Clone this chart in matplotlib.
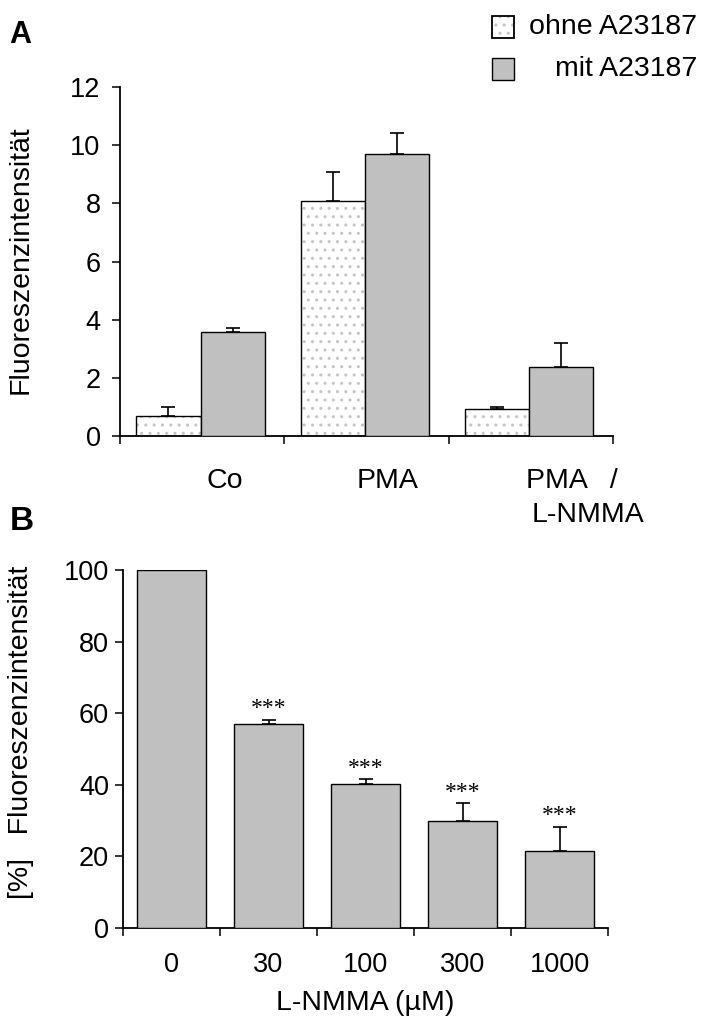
import matplotlib.pyplot as plt
import matplotlib.transforms as mtransforms
from matplotlib.patches import Rectangle
import numpy as np

plt.rcParams['font.family'] = ['Liberation Sans', 'DejaVu Sans']

# --- Panel A data ---
groups_a = ['Co', 'PMA', 'PMA   /\nL-NMMA']
label_x_a = [[0.64], [1.63], [2.75, 2.85]]   # centre of each label line, axis units
ohne = [0.68, 8.07, 0.93]
ohne_err = [0.30, 1.00, 0.05]
mit = [3.59, 9.68, 2.38]
mit_err = [0.13, 0.75, 0.82]
legend_labels = ['ohne A23187', 'mit A23187']

# --- Panel B data ---
conc_labels = ['0', '30', '100', '300', '1000']
rel = [100, 57.0, 40.2, 29.9, 21.6]
rel_err = [0, 1.1, 1.4, 5.0, 6.6]
stars = ['', '***', '***', '***', '***']

W, H = 701, 1028
GREY = '#c0c0c0'
DOTS = '#c4c4c4'
TICK_FS = 19.5
TEXT_FS = 20.5
fig = plt.figure(figsize=(W / 100, H / 100), dpi=100)


def px_axes(l, t, r, b):
    return fig.add_axes([l / W, 1 - b / H, (r - l) / W, (b - t) / H])


def style_axis(ax, ypad):
    for s in ['top', 'right']:
        ax.spines[s].set_visible(False)
    for s in ['left', 'bottom']:
        ax.spines[s].set_linewidth(1.3)
    ax.tick_params(axis='both', which='major', direction='out', length=6, width=1.1,
                   labelsize=TICK_FS)
    ax.tick_params(axis='y', pad=ypad)


# ---------------- A ----------------
axA = px_axes(120, 87, 613, 436)
x = np.arange(len(groups_a))
bw = 0.39
xo = x + 0.295
xm = x + 0.685

axA.bar(xo, ohne, bw, color='white', edgecolor=DOTS, hatch='..', linewidth=0, zorder=2)
axA.bar(xo, ohne, bw, fill=False, edgecolor='black', linewidth=1, zorder=3)
axA.bar(xm, mit, bw, color=GREY, edgecolor='black', linewidth=1, zorder=3)
axA.errorbar(xo, ohne, yerr=[np.zeros(len(ohne)), ohne_err], fmt='none', ecolor='black',
             elinewidth=1.2, capsize=5, capthick=1.2, zorder=4)
axA.errorbar(xm, mit, yerr=[np.zeros(len(mit)), mit_err], fmt='none', ecolor='black',
             elinewidth=1.2, capsize=5, capthick=1.2, zorder=4)

axA.set_xlim(0, 3)
axA.set_ylim(0, 12)
axA.set_yticks(np.arange(0, 13, 2))
axA.set_xticks([0, 1, 2, 3])
axA.set_xticklabels([])
style_axis(axA, 8)

trans = mtransforms.blended_transform_factory(axA.transData, fig.transFigure)
for xs, lab in zip(label_x_a, groups_a):
    for k, (lx, line) in enumerate(zip(xs, lab.split('\n'))):
        fig.text(lx, 1 - (488 + 34 * k) / H, line, transform=trans, ha='center',
                 va='baseline', fontsize=TEXT_FS)

# legend drawn by hand
for k, lab in enumerate(legend_labels):
    top = 16 + 42 * k
    box = (492 / W, 1 - (top + 22) / H)
    if k == 0:
        fig.patches.append(Rectangle(box, 22 / W, 22 / H, transform=fig.transFigure,
                                     facecolor='white', edgecolor=DOTS, hatch='..',
                                     linewidth=0))
        fig.patches.append(Rectangle(box, 22 / W, 22 / H, transform=fig.transFigure,
                                     fill=False, edgecolor='black', linewidth=1.3))
    else:
        fig.patches.append(Rectangle(box, 22 / W, 22 / H, transform=fig.transFigure,
                                     facecolor=GREY, edgecolor='black', linewidth=1))
    fig.text(697 / W, 1 - (top + 11) / H, lab, ha='right', va='center', fontsize=TEXT_FS)

fig.text(20 / W, 1 - 35 / H, 'A', fontsize=22, fontweight='bold', ha='center', va='center')
fig.text(21 / W, 1 - 260 / H, 'Fluoreszenzintensität', rotation=90, ha='center',
         va='center', fontsize=TEXT_FS)

# ---------------- B ----------------
axB = px_axes(123, 570, 608, 928)
xb = np.arange(len(conc_labels)) + 0.5
axB.bar(xb, rel, 0.72, color=GREY, edgecolor='black', linewidth=1, zorder=3)
axB.errorbar(xb, rel, yerr=[np.zeros(len(rel)), rel_err], fmt='none', ecolor='black',
             elinewidth=1.2, capsize=5, capthick=1.2, zorder=4)
for xi, v, e, s in zip(xb, rel, rel_err, stars):
    if s:
        axB.annotate(s, (xi, v + e), xytext=(0, 4), textcoords='offset points',
                     ha='center', va='baseline', fontsize=17, family='Liberation Serif')

axB.set_xlim(0, 5)
axB.set_ylim(0, 100)
axB.set_yticks(np.arange(0, 101, 20))
axB.set_xticks(np.arange(0, 6))
axB.set_xticklabels([])
axB.set_xticks(xb, minor=True)
axB.set_xticklabels(conc_labels, minor=True)
style_axis(axB, 4)
axB.tick_params(axis='x', which='minor', length=0, pad=17, labelsize=TICK_FS)
axB.set_xlabel('L-NMMA (µM)', fontsize=TEXT_FS, labelpad=9)

fig.text(22 / W, 1 - 522 / H, 'B', fontsize=24, fontweight='bold', ha='center', va='center')
fig.text(21 / W, 1 - 732 / H, '[%]   Fluoreszenzintensität', rotation=90, ha='center',
         va='center', fontsize=TEXT_FS)

fig.savefig('out.png', dpi=100)
